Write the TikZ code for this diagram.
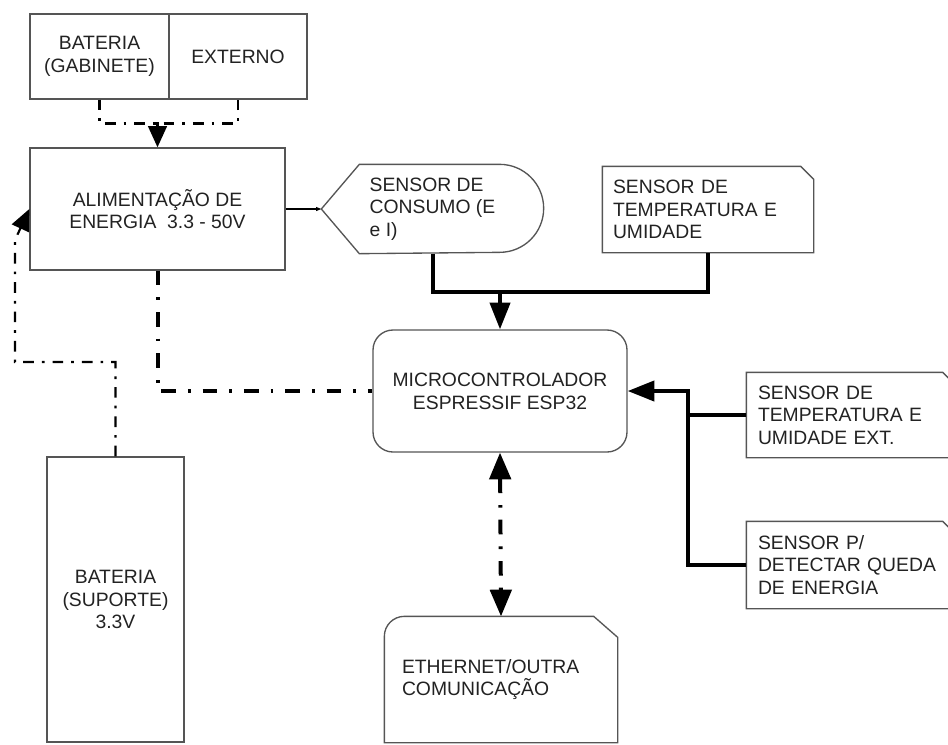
\documentclass[tikz,border=0pt]{standalone}
\usepackage{fontspec}
\setmainfont{Liberation Sans}
\usetikzlibrary{arrows.meta,calc,positioning}
\definecolor{boxgray}{HTML}{555555}
\definecolor{txtgray}{HTML}{222222}

\begin{document}
\begin{tikzpicture}[x=0.75pt,y=-0.75pt,
  blk/.style={draw=boxgray,line width=1pt,text=txtgray,inner sep=0pt,align=center,font=\fontsize{14.5}{17}\selectfont},
  card/.style={blk,draw=none,align=left},
  outline/.style={draw=boxgray,line width=1pt},
  bus/.style={line width=3pt},
  power/.style={line width=3pt,dash pattern=on 11pt off 9pt on 2pt off 9pt},
  feed/.style={line width=2pt,dash pattern=on 8pt off 6pt on 2pt off 6pt},
  bighead/.style={-{Triangle[length=20pt,width=15pt]}},
  midhead/.style={-{Triangle[length=16pt,width=14pt]}},
  smallhead/.style={-{Triangle[length=4pt,width=3pt]}},
  dblhead/.style={{Triangle[length=20pt,width=16pt]}-{Triangle[length=20pt,width=16pt]}}]
  \useasboundingbox (0,0) rectangle (948,744);
  \path
  node[blk,minimum width=104.25pt,minimum height=63.75pt] (batgab) at (99.5,56.5) {BATERIA\\(GABINETE)}
  node[blk,minimum width=103.5pt,minimum height=63.75pt] (externo) at (238,56.5) {EXTERNO}
  node[blk,minimum width=191.25pt,minimum height=91.5pt] (alim) at (157.5,209) {ALIMENTAÇÃO DE\\ENERGIA\ \ 3.3 - 50V}
  node[card,minimum width=165.75pt,minimum height=66pt] (consumo) at (432.5,209) {SENSOR DE\\CONSUMO (E\\e I)}
  node[card,text width=142.5pt,inner xsep=7.5pt,minimum height=63.75pt] (temp) at (708,209.5) {SENSOR DE\\TEMPERATURA E\\UMIDADE}
  node[blk,rounded corners=15pt,minimum width=190.5pt,minimum height=91.5pt] (micro) at (500,391) {MICROCONTROLADOR\\ESPRESSIF ESP32}
  node[card,text width=139.5pt,inner xsep=8.25pt,minimum height=63pt] (ext) at (851,415) {SENSOR DE\\TEMPERATURA E\\UMIDADE EXT.}
  node[card,text width=139.5pt,inner xsep=8.25pt,minimum height=64.5pt] (queda) at (851,565) {SENSOR P/\\DETECTAR QUEDA\\DE ENERGIA}
  node[blk,minimum width=102.75pt,minimum height=213.75pt] (batsup) at (115.5,599.5) {BATERIA\\(SUPORTE)\\3.3V}
  node[card,text width=148.5pt,inner xsep=12.75pt,minimum height=93.75pt] (eth) at (501,679.5) {ETHERNET/OUTRA\\COMUNICAÇÃO}
  ;
  \draw[outline] (consumo.west) -- ($(consumo.north west)+(38,0)$) -- ($(consumo.north east)+(-44,0)$)
    arc[start angle=90,end angle=-90,radius=33pt] -- ($(consumo.south west)+(38,0)$) -- cycle;
  \foreach \n in {temp,ext,queda}
    \draw[outline] (\n.south west) -- (\n.north west) -- ($(\n.north east)+(-13,0)$) -- ($(\n.north east)+(0,13)$) -- (\n.south east) -- cycle;
  \draw[outline] (eth.south west) -- ($(eth.north west)+(0,20)$) arc[start angle=180,end angle=90,radius=15pt]
    -- ($(eth.north east)+(-24,0)$) -- ($(eth.north east)+(0,21)$) -- (eth.south east) -- cycle;

  \coordinate (topbus) at (500,292);
  \coordinate (rbus) at (688,391);
  \coordinate (lcorner) at (15,362);
  \coordinate (lbus) at (15,240);

  \draw[feed] (batgab.south) -- ++(0,24) -| (externo.south);
  \draw[feed,midhead] ($(alim.north)+(0,-25)$) -- (alim.north);
  \path (alim.east) edge[line width=0.8pt,smallhead] (consumo.west);
  \draw[bus] (consumo.south) |- (topbus) -| (temp.south);
  \draw[bus,bighead] (topbus) -- (micro.north);
  \draw[bus] (ext.west) -- (ext.west -| rbus);
  \draw[bus,bighead] (queda.west) -| (rbus) -- (micro.east);
  \draw[power] (alim.south) |- (micro.west);
  \draw[feed,line width=1.6pt,midhead] (batsup.north) |- (lcorner) -- (lbus) -- (alim.west);
  \draw[power,dblhead] (micro.south) -- (eth.north);
\end{tikzpicture}
\end{document}
